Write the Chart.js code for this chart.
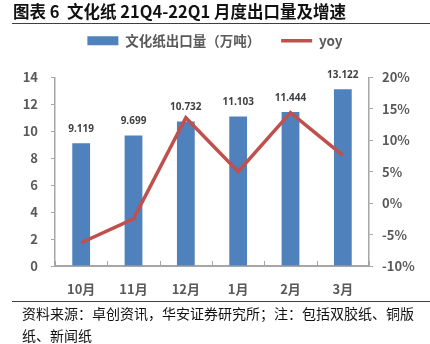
<!DOCTYPE html>
<html lang="zh">
<head>
<meta charset="UTF-8">
<title>文化纸 21Q4-22Q1 月度出口量及增速</title>
<script src="https://cdn.jsdelivr.net/npm/chart.js"></script>
<style>
    html, body {
        margin: 0;
        padding: 0;
        background: #fff;
    }
    body {
        width: 430px;
        height: 344px;
        position: relative;
        overflow: hidden;
        font-family: "Noto Sans CJK SC", sans-serif;
    }
    .title {
        position: absolute;
        left: 13px;
        top: 0;
        font-size: 16.5px;
        font-weight: bold;
        color: #111;
        line-height: 22px;
        white-space: nowrap;
    }
    .rule {
        position: absolute;
        left: 12px;
        right: 0;
        height: 1px;
        background: #404040;
    }
    .source {
        position: absolute;
        left: 22px;
        top: 302px;
        width: 404px;
        font-size: 14px;
        line-height: 22px;
        color: #111;
    }
    .chart-box {
        position: absolute;
        left: 0;
        top: 0;
        width: 430px;
        height: 344px;
    }
</style>
</head>
<body>
    <div class="chart-box"><canvas id="exportChart"></canvas></div>
    <div class="title">图表 6&nbsp;&nbsp;文化纸 21Q4-22Q1 月度出口量及增速</div>
    <div class="rule" style="top:23px"></div>
    <div class="rule" style="top:301px"></div>
    <div class="source">资料来源：卓创资讯，华安证券研究所；注：包括双胶纸、铜版纸、新闻纸</div>

<script>
    const months = ["10月", "11月", "12月", "1月", "2月", "3月"];
    const exportVol = [9.119, 9.699, 10.732, 11.103, 11.444, 13.122];  // 万吨
    const yoyPct = [-6.3, -2.5, 13.6, 5.0, 14.4, 7.6];                  // %

    const tickFont = { family: "'Noto Sans CJK SC', sans-serif", size: 13, weight: "bold" };
    const greyText = "#595959";
    const axisGrey = "#a6a6a6";

    // extra room between the legend row and the plot
    const legendGap = {
        id: "legendGap",
        beforeUpdate(chart) {
            const lg = chart.legend;
            if (lg && !lg._gapAdded) {
                const fit = lg.fit.bind(lg);
                lg.fit = function () {
                    fit();
                    this.height += 20;
                };
                lg._gapAdded = true;
            }
        }
    };

    // value labels over the bars
    const barLabels = {
        id: "barLabels",
        afterDatasetsDraw(chart) {
            const ctx = chart.ctx;
            const meta = chart.getDatasetMeta(0);
            ctx.save();
            ctx.font = "bold 10px 'Open Sans', sans-serif";
            ctx.fillStyle = "#404040";
            ctx.textAlign = "center";
            ctx.textBaseline = "middle";
            meta.data.forEach((bar, i) => {
                ctx.fillText(exportVol[i].toFixed(3), bar.x, bar.y - 14);
            });
            ctx.restore();
        }
    };

    // small inward tick marks between months on the category axis
    const xInnerTicks = {
        id: "xInnerTicks",
        afterDraw(chart) {
            const ctx = chart.ctx;
            const x = chart.scales.x;
            const bottom = chart.chartArea.bottom;
            ctx.save();
            ctx.strokeStyle = axisGrey;
            ctx.lineWidth = 1;
            for (let i = 0; i <= months.length; i++) {
                const px = Math.round(x.getPixelForValue(i - 0.5)) + 0.5;
                ctx.beginPath();
                ctx.moveTo(px, bottom - 5);
                ctx.lineTo(px, bottom);
                ctx.stroke();
            }
            ctx.restore();
        }
    };

    const ctx = document.getElementById("exportChart").getContext("2d");
    const exportChart = new Chart(ctx, {
        type: "bar",
        data: {
            labels: months,
            datasets: [
                {
                    type: "bar",
                    label: "文化纸出口量（万吨）",
                    data: exportVol,
                    backgroundColor: "#4F81BD",
                    yAxisID: "y",
                    barPercentage: 0.34,
                    categoryPercentage: 1,
                    pointStyle: "rect",
                    order: 2
                },
                {
                    type: "line",
                    label: "yoy",
                    data: yoyPct,
                    borderColor: "#C0504D",
                    backgroundColor: "#C0504D",
                    borderWidth: 3.5,
                    pointRadius: 0,
                    pointStyle: "line",
                    tension: 0,
                    yAxisID: "y1",
                    order: 1
                }
            ]
        },
        options: {
            responsive: true,
            maintainAspectRatio: false,
            animation: false,
            layout: { padding: { top: 13, bottom: 44, left: 0, right: 0 } },
            plugins: {
                tooltip: { enabled: false },
                legend: {
                    position: "top",
                    labels: {
                        sort: (a, b) => a.datasetIndex - b.datasetIndex,
                        usePointStyle: true,
                        pointStyleWidth: 31,
                        boxHeight: 9,
                        padding: 21,
                        color: greyText,
                        font: { family: "'Noto Sans CJK SC', sans-serif", size: 13.5, weight: "bold" }
                    }
                }
            },
            scales: {
                x: {
                    offset: true,
                    grid: { display: false, drawTicks: false },
                    border: { color: axisGrey, width: 2 },
                    ticks: { color: greyText, font: tickFont, padding: 15 },
                    afterFit: s => { s.height = 34; }
                },
                y: {
                    position: "left",
                    min: 0,
                    max: 14,
                    ticks: { stepSize: 2, color: greyText, font: tickFont, padding: 13 },
                    grid: { drawOnChartArea: false, tickLength: 4, color: axisGrey },
                    border: { color: axisGrey, width: 1.5 },
                    afterFit: s => { s.width = 55; }
                },
                y1: {
                    position: "right",
                    min: -10,
                    max: 20,
                    ticks: { stepSize: 5, color: greyText, font: tickFont, padding: 9, callback: v => v + "%" },
                    grid: { drawOnChartArea: false, tickLength: 4, color: axisGrey },
                    border: { color: axisGrey, width: 1.5 },
                    afterFit: s => { s.width = 61; }
                }
            }
        },
        plugins: [legendGap, barLabels, xInnerTicks]
    });
</script>
</body>
</html>
